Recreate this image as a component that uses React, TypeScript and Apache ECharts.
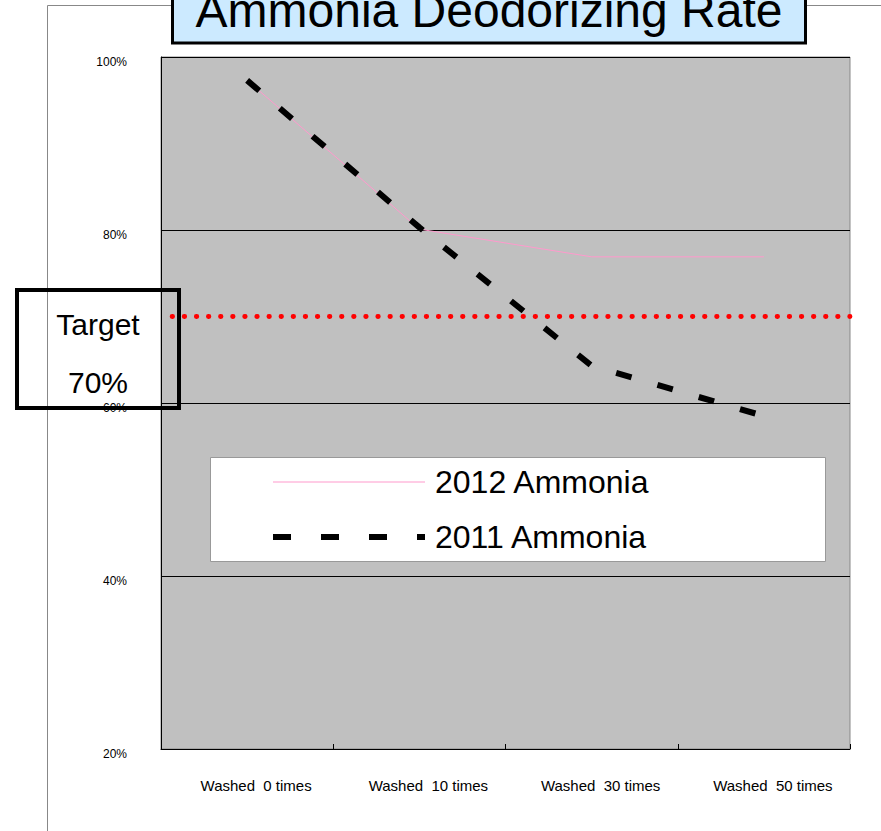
import React, { useEffect, useRef } from "react";
import * as echarts from "echarts";

const categories = ["Washed  0 times", "Washed  10 times", "Washed  30 times", "Washed  50 times"];
const ammonia2012 = [97.3, 80.1, 76.9, 76.9];
const ammonia2011 = [97.3, 80.3, 64.3, 58.5];
const targetValue = 70;
const yTicks = { min: 20, max: 100, interval: 20 };
const titleText = "Ammonia Deodorizing Rate";

export default function App() {
  const ref = useRef<HTMLDivElement>(null);
  useEffect(() => {
    if (!ref.current) return;
    const chart = echarts.init(ref.current, null, { renderer: "svg" });
    const font = "Liberation Sans, Arial, sans-serif";
    const dash2011 = [16, 27];
    chart.setOption({
      animation: false,
      backgroundColor: "#ffffff",
      textStyle: { fontFamily: font },
      grid: {
        left: 161,
        right: 31,
        top: 57,
        bottom: 82,
        show: true,
        backgroundColor: "#c0c0c0",
        borderColor: "#888888",
        borderWidth: 1,
      },
      legend: {
        orient: "vertical",
        left: 270,
        top: 466,
        padding: 0,
        itemGap: 23,
        itemWidth: 152,
        itemHeight: 14,
        itemStyle: { opacity: 0 },
        data: [
          { name: "2012 Ammonia", lineStyle: { width: 1, color: "#ff99cc" } },
          { name: "2011 Ammonia", lineStyle: { width: 6, color: "#000", type: [18, 30], cap: "butt" } },
        ],
        textStyle: {
          fontSize: 32,
          color: "#000",
          fontFamily: font,
          padding: [0, 0, 0, 5],
        },
        z: 10,
      },
      xAxis: {
        type: "category",
        data: categories,
        boundaryGap: true,
        axisLine: { show: true, lineStyle: { color: "#000", width: 1 } },
        axisTick: { show: true, inside: true, length: 5, lineStyle: { color: "#000" } },
        axisLabel: {
          color: "#000",
          fontSize: 15,
          margin: 29,
          padding: [0, 0, 0, 18],
          fontFamily: font,
        },
        splitLine: { show: false },
      },
      yAxis: {
        type: "value",
        min: yTicks.min,
        max: yTicks.max,
        interval: yTicks.interval,
        axisLine: { show: true, lineStyle: { color: "#000", width: 1 } },
        axisTick: { show: false },
        axisLabel: {
          formatter: "{value}%",
          color: "#000",
          fontSize: 12,
          margin: 34,
          verticalAlign: "top",
          lineHeight: 10,
          fontFamily: font,
        },
        splitLine: { show: true, lineStyle: { color: "#000", width: 1 } },
      },
      series: [
        {
          name: "2012 Ammonia",
          type: "line",
          data: ammonia2012,
          symbol: "none",
          z: 2,
          lineStyle: { color: "#ff99cc", width: 1 },
          itemStyle: { color: "#ff99cc" },
          markLine: {
            silent: true,
            symbol: ["none", "none"],
            label: { show: false },
            lineStyle: {
              color: "#ff0000",
              width: 4.8,
              type: [0.5, 11.6],
              dashOffset: 1.1,
              cap: "round",
            },
            data: [{ yAxis: targetValue }],
          },
        },
        {
          name: "2011 Ammonia",
          type: "line",
          data: ammonia2011,
          symbol: "none",
          z: 3,
          lineStyle: { color: "#000", width: 6, type: dash2011, cap: "butt" },
          itemStyle: { color: "#000" },
        },
      ],
      graphic: [
        {
          type: "line",
          shape: { x1: 47.5, y1: 5.5, x2: 47.5, y2: 831 },
          style: { stroke: "#888", lineWidth: 1 },
          z: 1,
        },
        {
          type: "line",
          shape: { x1: 47.5, y1: 5.5, x2: 881, y2: 5.5 },
          style: { stroke: "#888", lineWidth: 1 },
          z: 1,
        },
        {
          type: "rect",
          shape: { x: 172.5, y: -20, width: 633, height: 63 },
          style: { fill: "#cceaff", stroke: "#000", lineWidth: 3 },
          z: 20,
        },
        {
          type: "text",
          x: 489,
          y: 10,
          style: {
            text: titleText,
            fill: "#000",
            font: "48px Liberation Sans, Arial, sans-serif",
            textAlign: "center",
            textVerticalAlign: "middle",
          },
          z: 21,
        },
        {
          type: "rect",
          shape: { x: 210.5, y: 457.5, width: 615, height: 104 },
          style: { fill: "#ffffff", stroke: "#999", lineWidth: 1 },
          z: 5,
        },
        {
          type: "rect",
          shape: { x: 17, y: 290, width: 162, height: 118 },
          style: { fill: "none", stroke: "#000", lineWidth: 4 },
          z: 20,
        },
        {
          type: "text",
          x: 98,
          y: 324,
          style: {
            text: "Target",
            fill: "#000",
            font: "30px Liberation Sans, Arial, sans-serif",
            textAlign: "center",
            textVerticalAlign: "middle",
          },
          z: 21,
        },
        {
          type: "text",
          x: 98,
          y: 382,
          style: {
            text: "70%",
            fill: "#000",
            font: "30px Liberation Sans, Arial, sans-serif",
            textAlign: "center",
            textVerticalAlign: "middle",
          },
          z: 21,
        },
      ],
    });
    return () => chart.dispose();
  }, []);
  return (
    <div
      ref={ref}
      style={{ position: "absolute", left: 0, top: 0, width: 881, height: 831 }}
    />
  );
}
